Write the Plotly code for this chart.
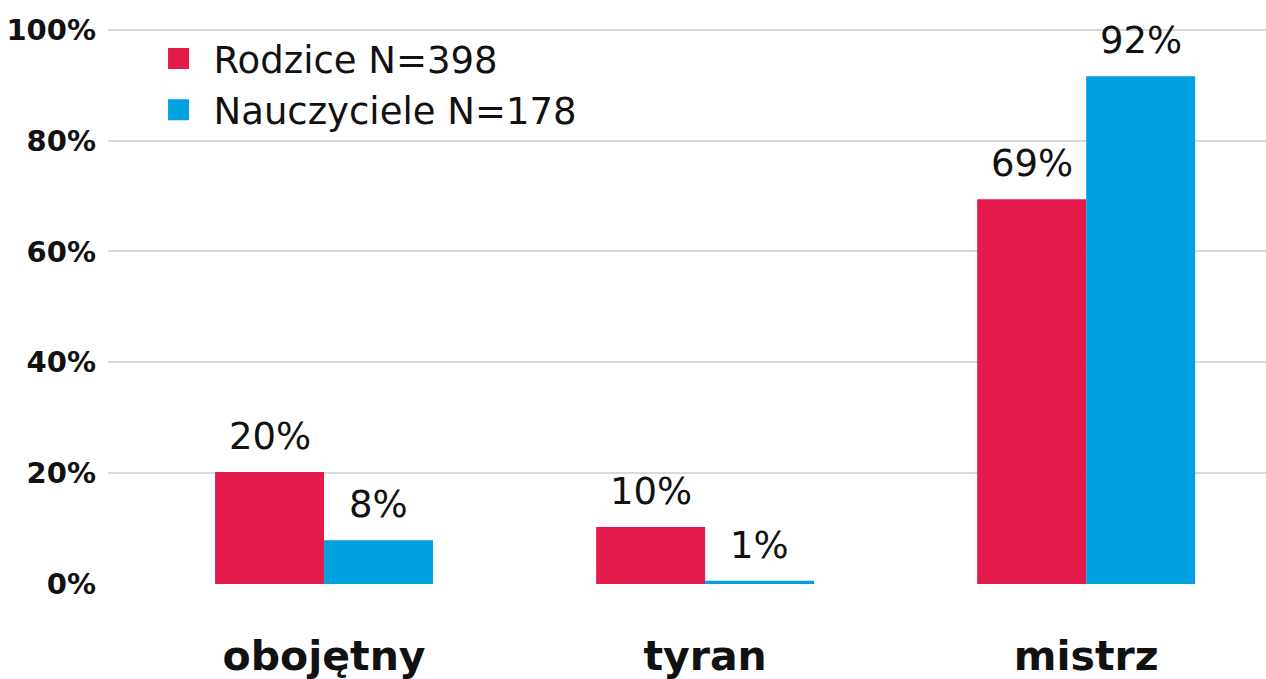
import plotly.graph_objects as go

categories = ["obojętny", "tyran", "mistrz"]
rodzice = [20.2, 10.3, 69.4]
nauczyciele = [7.9, 0.6, 91.6]
rodzice_labels = ["20%", "10%", "69%"]
nauczyciele_labels = ["8%", "1%", "92%"]
series_names = ["Rodzice N=398", "Nauczyciele N=178"]
tick_vals = [0, 20, 40, 60, 80, 100]
tick_text = ["0%", "20%", "40%", "60%", "80%", "100%"]

RED = "#E31B4B"
BLUE = "#00A1E0"
FONT = "DejaVu Sans"
bw = 0.286

xi = list(range(len(categories)))

fig = go.Figure()
fig.add_trace(go.Bar(x=xi, y=rodzice, name=series_names[0], marker_color=RED,
                     width=bw, offset=-bw, marker_line_width=0, showlegend=False))
fig.add_trace(go.Bar(x=xi, y=nauczyciele, name=series_names[1], marker_color=BLUE,
                     width=bw, offset=0, marker_line_width=0, showlegend=False))
# legend entries with large square swatches
for name, col in zip(series_names, [RED, BLUE]):
    fig.add_trace(go.Scatter(x=[None], y=[None], mode="markers", name=name,
                             marker=dict(symbol="square", size=24, color=col,
                                         line=dict(color=col, width=5))))

annotations = []
for i in xi:
    annotations.append(dict(x=i - bw / 2, y=rodzice[i], text=rodzice_labels[i], showarrow=False,
                            yanchor="bottom", yshift=12, font=dict(family=FONT, size=37, color="#111")))
    annotations.append(dict(x=i + bw / 2, y=nauczyciele[i], text=nauczyciele_labels[i], showarrow=False,
                            yanchor="bottom", yshift=12, font=dict(family=FONT, size=37, color="#111")))

fig.update_layout(
    width=1266, height=679,
    margin=dict(l=108, r=0, t=28, b=95),
    plot_bgcolor="white", paper_bgcolor="white",
    barmode="overlay",
    showlegend=True,
    legend=dict(x=0.0307, y=1.0, xanchor="left", yanchor="top",
                font=dict(family=FONT, size=37, color="#111"),
                bgcolor="rgba(0,0,0,0)", itemsizing="trace", itemwidth=60, tracegroupgap=0),
    annotations=annotations,
    xaxis=dict(range=[-0.567, 2.472], tickvals=xi, ticktext=categories,
               tickfont=dict(family=FONT, size=41, color="#111", weight="bold"),
               showgrid=False, zeroline=False, showline=False, ticks="",
               ticklabelstandoff=44, automargin=False),
    yaxis=dict(range=[0, 100.3], tickvals=tick_vals, ticktext=tick_text,
               tickfont=dict(family=FONT, size=29, color="#111", weight="bold"),
               showgrid=True, gridcolor="#D9D9D9", gridwidth=1.5, zeroline=False,
               showline=False, ticks="", ticklabelstandoff=11, automargin=False),
)

fig.write_html("out.html", config={"displayModeBar": False},
               post_script="document.body.style.margin='0';")
